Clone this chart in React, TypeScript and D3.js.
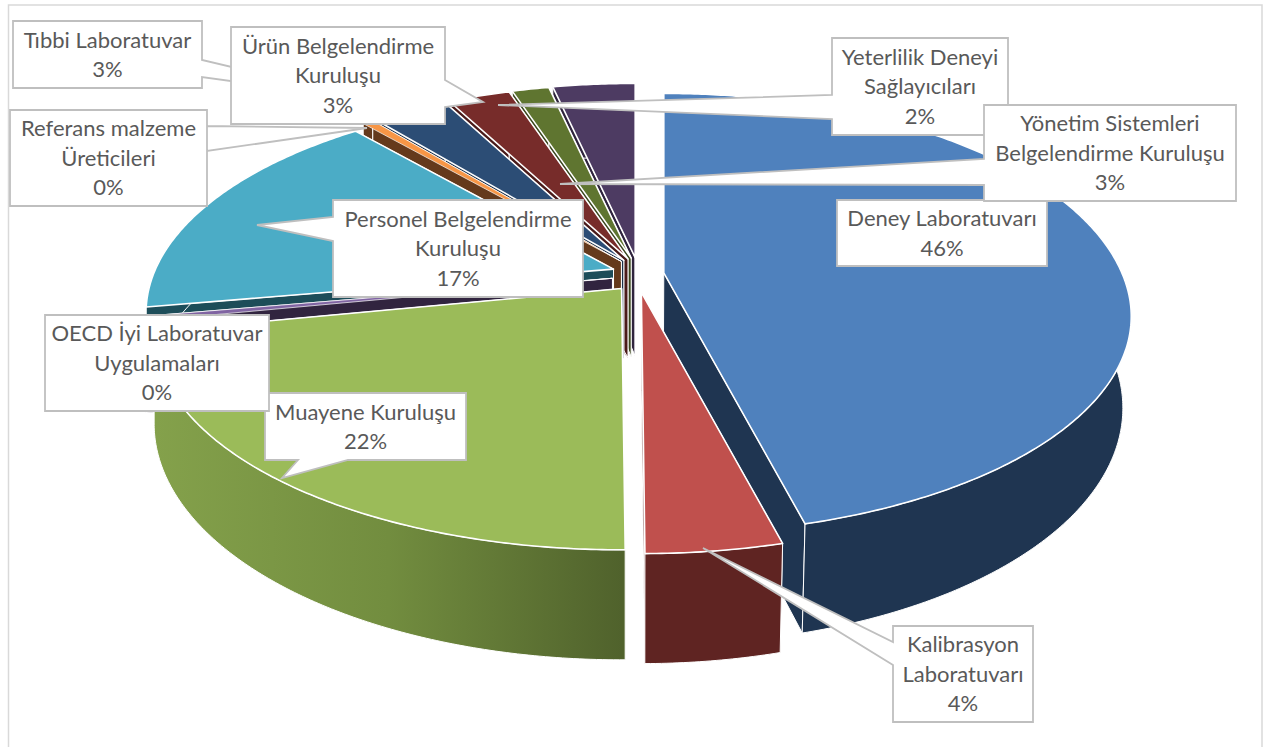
import React from 'react'
import { line, pie, range, format } from 'd3'

// accreditation shares, clockwise from 12 o'clock
const categories = [
    'Deney Laboratuvarı',
    'Kalibrasyon Laboratuvarı',
    'Muayene Kuruluşu',
    'OECD İyi Laboratuvar Uygulamaları',
    'Personel Belgelendirme Kuruluşu',
    'Referans malzeme Üreticileri',
    'Tıbbi Laboratuvar',
    'Ürün Belgelendirme Kuruluşu',
    'Yeterlilik Deneyi Sağlayıcıları',
    'Yönetim Sistemleri Belgelendirme Kuruluşu'
]
const shares = [46.0, 3.9, 21.95, 0.35, 16.55, 0.45, 3.2, 2.6, 1.55, 3.45]
const topColors = ['#4f81bd', '#c0504d', '#9bbb59', '#8064a2', '#4bacc6', '#f79646', '#2c4d75', '#772c2a', '#5f7530', '#4d3b62']
const wallColors = ['#1f3551', '#5f2422', 'url(#greenWall)', '#31243f', '#1d4d59', '#653a1c', '#1b3049', '#4a1b1a', '#3b481e', '#2f243d']
// blue slice's far rim sits a bit higher than the others in the original
const backStretch = [1.03, 1, 1, 1, 1, 1, 1, 1, 1, 1]

// label text broken as in the original, same order as categories
const labelLines = [
    ['Deney Laboratuvarı'],
    ['Kalibrasyon', 'Laboratuvarı'],
    ['Muayene Kuruluşu'],
    ['OECD İyi Laboratuvar', 'Uygulamaları'],
    ['Personel Belgelendirme', 'Kuruluşu'],
    ['Referans malzeme', 'Üreticileri'],
    ['Tıbbi Laboratuvar'],
    ['Ürün Belgelendirme', 'Kuruluşu'],
    ['Yeterlilik Deneyi', 'Sağlayıcıları'],
    ['Yönetim Sistemleri', 'Belgelendirme Kuruluşu']
]
// [left, top, right, bottom]
const labelBoxes = [
    [837, 200, 1047, 266],
    [893, 626, 1033, 722],
    [265, 393, 466, 460],
    [45, 315, 269, 411],
    [333, 200, 583, 297],
    [10, 110, 207, 206],
    [13, 21, 202, 88],
    [231, 27, 445, 124],
    [832, 38, 1008, 135],
    [984, 105, 1236, 201]
]
// callout wedges: [base1x, base1y, tipx, tipy, base2x, base2y], walked clockwise on the box
const labelTails: (number[] | null)[] = [
    null,
    [893, 665, 703, 548, 893, 642],
    [348, 460, 282, 478, 298, 460],
    null,
    [333, 241, 257, 225, 333, 217],
    [207, 151, 367, 128, 207, 126],
    [202, 60, 375, 101, 202, 77],
    [445, 80, 483, 102, 445, 107],
    [832, 119, 498, 105, 832, 95],
    [984, 185, 560, 184, 984, 159]
]
const drawOrder = [9, 8, 7, 6, 5, 4, 0, 3, 2, 1]
const labelOrder = [0, 1, 2, 3, 4, 6, 5, 7, 8, 9]

const width = 1263
const height = 747
const cx = 638
const cy = 275
const radiusX = 458
const radiusY = 209
const perspective = 0.2
const depth = 88
const apexDepth = 1.12
const explodeX = 26
const explodeY = 17.5
const bottomShrink = 0.983

const toPath = line<[number, number]>()

const project = (theta: number, r: number, z: number, ox: number, oy: number, stretch: number): [number, number] => {
    const xp = Math.sin(theta) * r
    let yp = -Math.cos(theta) * r
    const w = 1 - perspective * yp
    if (yp < 0) yp *= stretch
    const x = cx + ox + radiusX * xp / w
    const y = cy + oy + (radiusY * yp + z * depth) / w
    // the lower rim only pulls in on the right hand side
    return [z && x > cx ? cx + (x - cx) * bottomShrink : x, y]
}

const arcAngles = (a0: number, a1: number): number[] => {
    const n = Math.max(2, Math.ceil((a1 - a0) / 0.01))
    return range(n + 1).map((i) => a0 + (a1 - a0) * i / n)
}

const Slice = ({ d, i }: { d: any, i: number }) => {
    const mid = (d.startAngle + d.endAngle) / 2
    const ox = Math.sin(mid) * explodeX
    const oy = -Math.cos(mid) * explodeY
    const stretch = backStretch[i]
    const angles = arcAngles(d.startAngle, d.endAngle)
    const top = angles.map((a) => project(a, 1, 0, ox, oy, stretch))
    const bottom = angles.map((a) => project(a, 1, 1, ox, oy, stretch))
    const apexTop = project(0, 0, 0, ox, oy, stretch)
    const apexBottom = project(0, 0, apexDepth, ox, oy, stretch)
    const radialWall = (k: number): [number, number][] => [
        apexTop, top[k], bottom[k], apexBottom
    ]
    const wall = wallColors[i]
    return (
        <g>
            <path d={toPath(radialWall(0)) + 'Z'} fill={wall} stroke="#fff" strokeWidth={1} />
            <path d={toPath(radialWall(angles.length - 1)) + 'Z'} fill={wall} stroke="#fff" strokeWidth={1} />
            <path d={toPath([...top, ...bottom.slice().reverse()]) + 'Z'} fill={wall} stroke="#fff" strokeWidth={1} />
            <path d={toPath([apexTop, ...top]) + 'Z'} fill={topColors[i]} stroke="#fff"
                strokeWidth={shares[i] < 1 ? 0.7 : 1.6} strokeLinejoin="round" />
        </g>
    )
}

const Label = ({ i, pct }: { i: number, pct: string }) => {
    const [l, t, r, b] = labelBoxes[i]
    const tail = labelTails[i]
    const lines = [...labelLines[i], pct]
    const mx = (l + r) / 2
    const first = (t + b) / 2 - (lines.length - 1) * 14.8 + 7.8
    let pts: [number, number][] = [[l, t], [r, t], [r, b], [l, b]]
    if (tail) {
        const wedge: [number, number][] = [[tail[0], tail[1]], [tail[2], tail[3]], [tail[4], tail[5]]]
        // put the wedge in on the side it leaves from
        const side = tail[1] === b && tail[5] === b ? 2 : tail[0] === r ? 1 : 3
        pts = [...pts.slice(0, side + 1), ...wedge, ...pts.slice(side + 1)]
    }
    return (
        <g>
            <path d={toPath(pts) + 'Z'} fill="#fff" stroke="#bfbfbf" strokeWidth={1.8} />
            {lines.map((s, k) => (
                <text key={k} x={mx} y={first + k * 29.6} textAnchor="middle"
                    fontFamily="Lato, 'Open Sans', sans-serif" fontSize={22} fill="#595959">{s}</text>
            ))}
        </g>
    )
}

export default function App() {
    const slices = pie<number>().sort(null).value((v) => v)(shares)
    const total = shares.reduce((a, b) => a + b, 0)
    const pct = format('.0%')
    return (
        <svg width={width} height={height}
            style={{ position: 'absolute', left: 0, top: 0, background: '#fff' }}>
            <defs>
                <linearGradient id="greenWall" gradientUnits="userSpaceOnUse" x1={155} y1={0} x2={622} y2={0}>
                    <stop offset="0" stopColor="#84a14b" />
                    <stop offset="0.5" stopColor="#728d3f" />
                    <stop offset="1" stopColor="#50622c" />
                </linearGradient>
            </defs>
            <rect x={8.5} y={5} width={1253.5} height={760} fill="#fff" stroke="#d9d9d9" strokeWidth={1.5} />
            {drawOrder.map((i) => <Slice key={categories[i]} d={slices[i]} i={i} />)}
            {labelOrder.map((i) => <Label key={categories[i]} i={i} pct={pct(shares[i] / total)} />)}
        </svg>
    )
}
